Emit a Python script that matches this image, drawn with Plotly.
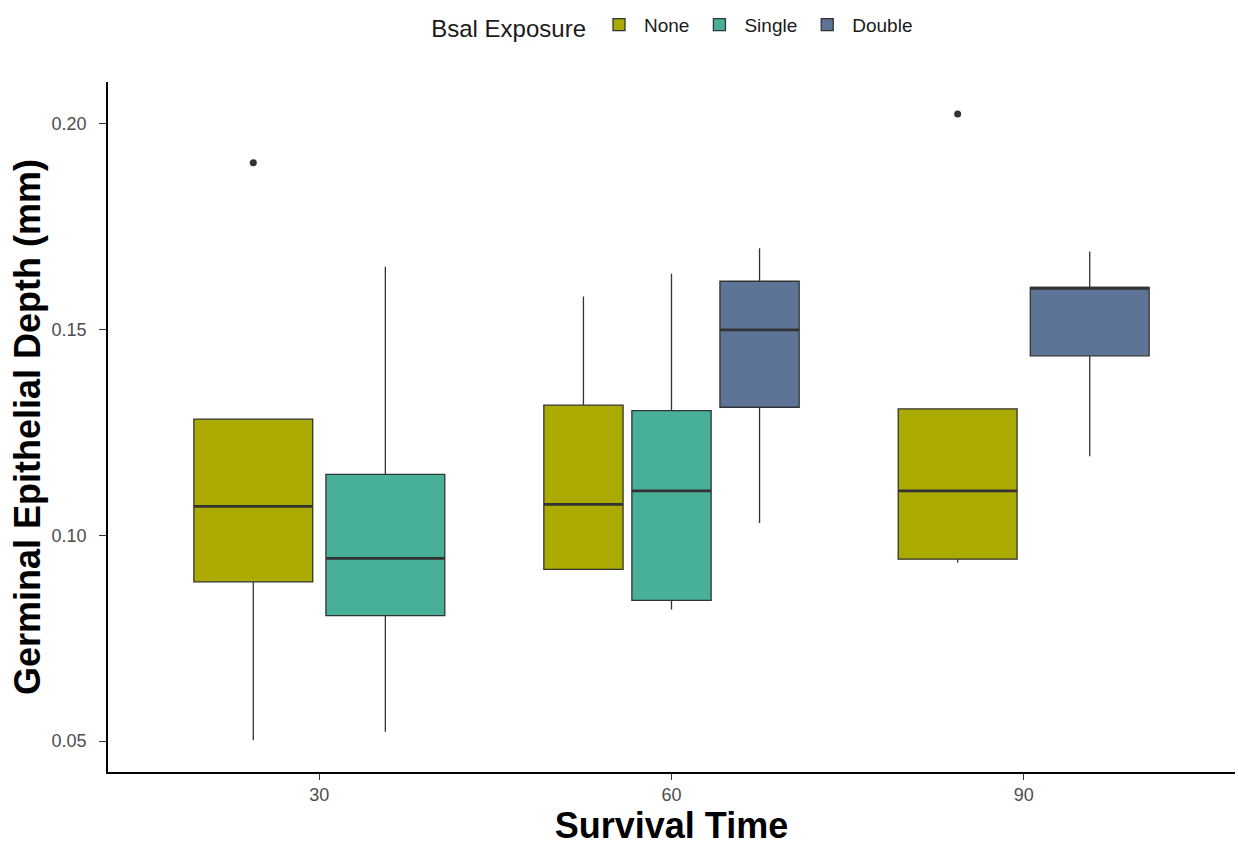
import plotly.graph_objects as go

# ---------------- data ----------------
groups = ["30", "60", "90"]
exposures = ["None", "Single", "Double"]
colors = {"None": "#ABAA00", "Single": "#48AF98", "Double": "#5E7497"}

# box statistics per exposure, aligned with groups (None = no data)
lower = {"None": [0.0502, 0.0917, 0.0933],
         "Single": [0.0523, 0.0820, None],
         "Double": [None, 0.1030, 0.1192]}
q1 = {"None": [0.0887, 0.0917, 0.0942],
      "Single": [0.0805, 0.0842, None],
      "Double": [None, 0.1311, 0.1436]}
median = {"None": [0.1070, 0.1075, 0.1108],
          "Single": [0.0944, 0.1108, None],
          "Double": [None, 0.1499, 0.1600]}
q3 = {"None": [0.1282, 0.1316, 0.1307],
      "Single": [0.1148, 0.1303, None],
      "Double": [None, 0.1617, 0.1602]}
upper = {"None": [0.1282, 0.1580, 0.1307],
         "Single": [0.1652, 0.1635, None],
         "Double": [None, 0.1697, 0.1689]}
outliers = {"None": [[0.1905], [], [0.2023]],
            "Single": [[], [], []],
            "Double": [[], [], []]}

y_ticks = [0.05, 0.10, 0.15, 0.20]

# ---------------- figure ----------------
DODGE = 0.75
PAD = 0.9
fig = go.Figure()
shown = set()
med_x, med_y = [], []
out_x, out_y = [], []
for g in range(len(groups)):
    present = [e for e in exposures if median[e][g] is not None]
    n = len(present)
    slot = DODGE / n
    for i, e in enumerate(present):
        c = (g + 1) - DODGE / 2 + slot * (i + 0.5)
        w = slot * PAD
        fig.add_trace(go.Box(
            x=[c], q1=[q1[e][g]], median=[median[e][g]], q3=[q3[e][g]],
            lowerfence=[lower[e][g]], upperfence=[upper[e][g]],
            width=w, whiskerwidth=0, boxpoints=False,
            fillcolor=colors[e], line=dict(color="#333333", width=1.3),
            name=e, legendgroup=e, showlegend=e not in shown,
            hoverinfo="skip"))
        shown.add(e)
        med_x += [c - w / 2, c + w / 2, None]
        med_y += [median[e][g], median[e][g], None]
        for v in outliers[e][g]:
            out_x.append(c)
            out_y.append(v)

fig.add_trace(go.Scatter(x=med_x, y=med_y, mode="lines",
                         line=dict(color="#333333", width=2.8),
                         showlegend=False, hoverinfo="skip"))
fig.add_trace(go.Scatter(x=out_x, y=out_y, mode="markers",
                         marker=dict(color="#333333", size=7),
                         showlegend=False, hoverinfo="skip"))

fig.update_layout(
    width=1238, height=849,
    margin=dict(l=108, r=3, t=82, b=77),
    paper_bgcolor="white", plot_bgcolor="white",
    boxmode="overlay",
    font=dict(family="Liberation Sans, Arial, sans-serif", color="#000000"),
    legend=dict(orientation="h", x=0.502, xanchor="center", y=1.08, yanchor="middle",
                title=dict(text="Bsal Exposure", font=dict(size=24, color="#1A1A1A")),
                font=dict(size=19, color="#1A1A1A"),
                traceorder="normal", itemwidth=40),
    xaxis=dict(range=[0.4, 3.6], tickvals=[1, 2, 3], ticktext=groups,
               showgrid=False, zeroline=False,
               showline=True, linecolor="#000000", linewidth=1.5,
               ticks="outside", ticklen=6, tickcolor="#333333", tickwidth=1.3,
               tickfont=dict(size=18, color="#4D4D4D"),
               title=dict(text="<b>Survival Time</b>", font=dict(size=36, color="#000000"),
                          standoff=6)),
    yaxis=dict(range=[0.0425, 0.2101], tickvals=y_ticks, tickformat=".2f",
               showgrid=False, zeroline=False,
               showline=True, linecolor="#000000", linewidth=1.5,
               ticks="outside", ticklen=7, tickcolor="#333333", tickwidth=1.3,
               ticklabelstandoff=9,
               tickfont=dict(size=18, color="#4D4D4D"),
               title=dict(text="<b>Germinal Epithelial Depth (mm)</b>",
                          font=dict(size=36, color="#000000"), standoff=0)),
)

fig.write_html("out.html", config={"displayModeBar": False})
